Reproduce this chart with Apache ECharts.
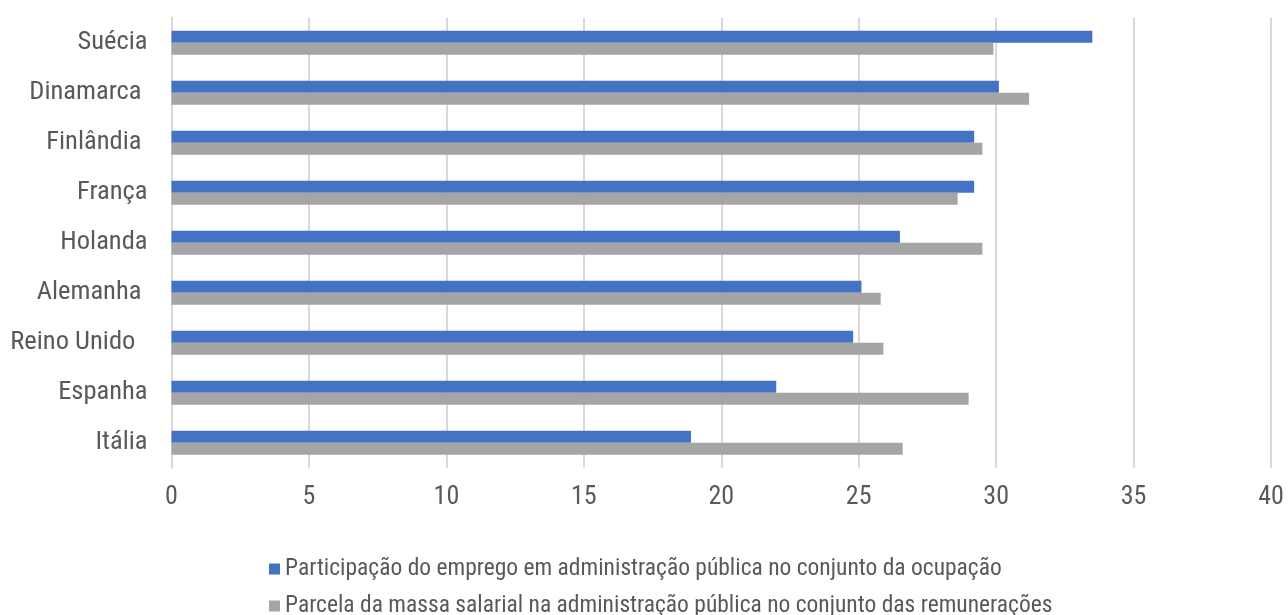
<!DOCTYPE html>
<html>
<head>
<meta charset="utf-8">
<script src="https://cdn.jsdelivr.net/npm/echarts@6/dist/echarts.min.js"></script>
<style>
  html, body { margin: 0; padding: 0; background: #fff; }
  #main { width: 1288px; height: 615px; }
</style>
</head>
<body>
<div id="main"></div>
<script>
// dados
const paises = ['Suécia', 'Dinamarca ', 'Finlândia ', 'França', 'Holanda', 'Alemanha ', 'Reino Unido  ', 'Espanha', 'Itália'];
const emprego = [33.5, 30.1, 29.2, 29.2, 26.5, 25.1, 24.8, 22.0, 18.9];
const massaSalarial = [29.9, 31.2, 29.5, 28.6, 29.5, 25.8, 25.9, 29.0, 26.6];
const nomeEmprego = 'Participação do emprego em administração pública no conjunto da ocupação';
const nomeMassa = 'Parcela da massa salarial na administração pública no conjunto das remunerações';

const fonte = '"Roboto Condensed", "Liberation Sans Narrow", "DejaVu Sans Condensed", Roboto, sans-serif';
const myChart = echarts.init(document.getElementById('main'));

// uma legenda por linha
const legenda = (nome, top) => ({
  orient: 'vertical',
  left: 264,
  top: top,
  itemWidth: 11,
  itemHeight: 11,
  icon: 'rect',
  textStyle: { fontFamily: fonte, fontSize: 23.5, color: '#595959' },
  data: [nome]
});

const option = {
  animation: false,
  textStyle: { fontFamily: fonte, color: '#595959' },
  grid: { left: 171.5, right: 17, top: 17.7, bottom: 147.3 },
  legend: [legenda(nomeEmprego, 552), legenda(nomeMassa, 589)],
  xAxis: {
    type: 'value',
    min: 0,
    max: 40,
    interval: 5,
    axisLine: { show: false },
    axisTick: { show: false },
    splitLine: { show: true, lineStyle: { color: '#d9d9d9', width: 2 } },
    axisLabel: { fontFamily: fonte, fontSize: 26, color: '#595959', margin: 17 }
  },
  yAxis: {
    type: 'category',
    inverse: true,
    data: paises,
    axisLine: { show: true, lineStyle: { color: '#d9d9d9', width: 2 } },
    axisTick: { show: false },
    axisLabel: { fontFamily: fonte, fontSize: 26.5, color: '#595959', margin: 24 }
  },
  series: [
    {
      name: nomeEmprego,
      type: 'bar',
      barWidth: 12,
      barGap: '0%',
      itemStyle: { color: '#4472c4' },
      data: emprego
    },
    {
      name: nomeMassa,
      type: 'bar',
      barWidth: 12,
      barGap: '0%',
      itemStyle: { color: '#a5a5a5' },
      data: massaSalarial
    }
  ]
};

option && myChart.setOption(option);
</script>
</body>
</html>
